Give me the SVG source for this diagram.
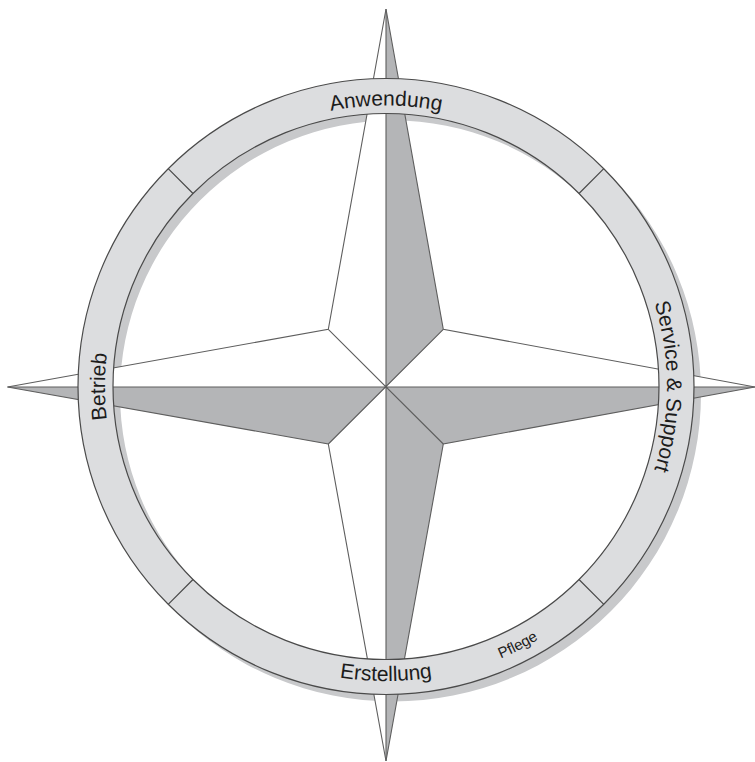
<svg xmlns="http://www.w3.org/2000/svg" width="755" height="762" viewBox="0 0 755 762">
<style>
.ln{stroke:#5e5e5e;stroke-width:1.1;fill:none;stroke-linejoin:miter}
.rl{stroke:#4a4a4a;stroke-width:1.2;fill:none}
.g{fill:#b4b5b7}
.lbl{font-family:"Liberation Sans",Arial,Helvetica,sans-serif;font-size:21px;fill:#1c1c1c}
.sm{font-size:15px}
</style>
<defs>
<path id="pN" d="M105,386.5 A281,281 0 0 1 667,386.5"/>
<path id="pE" d="M386,105.5 A281,281 0 0 1 386,667.5"/>
<path id="pW" d="M386,667.5 A281,281 0 0 1 386,105.5"/>
<path id="pS" d="M91.5,386.5 A294.5,294.5 0 0 0 680.5,386.5"/>
<path id="pP" d="M120.5,521.8 A298,298 0 0 0 651.5,251.2"/>
</defs>
<rect width="755" height="762" fill="#ffffff"/>
<g id="shadow">
<path d="M701,393.5 A308,308 0 1 0 85,393.5 A308,308 0 1 0 701,393.5 Z M666,393.5 A273,273 0 1 0 120,393.5 A273,273 0 1 0 666,393.5 Z" fill="#c8c9cb" fill-rule="evenodd"/>
</g>
<g id="star">
<polygon points="386,9 443.3,329.3 755,387 443.3,444 386,761 328.3,444 7.5,387 328.3,329.3" fill="#ffffff"/>
<polygon class="g" points="386,387 386,9 443.3,329.3"/>
<polygon class="g" points="386,387 755,387 443.3,444"/>
<polygon class="g" points="386,387 386,761 443.3,444"/>
<polygon class="g" points="386,387 7.5,387 328.3,444"/>
<polygon class="ln" points="386,9 443.3,329.3 755,387 443.3,444 386,761 328.3,444 7.5,387 328.3,329.3"/>
<path class="ln" d="M386,9 V761 M7.5,387 H755 M328.3,329.3 L443.3,444 M443.3,329.3 L328.3,444"/>
</g>
<g id="ring">
<path d="M694,386.5 A308,308 0 1 0 78,386.5 A308,308 0 1 0 694,386.5 Z M659,386.5 A273,273 0 1 0 113,386.5 A273,273 0 1 0 659,386.5 Z" fill="#dcdddf" fill-rule="evenodd"/>
<circle class="rl" cx="386" cy="386.5" r="308"/>
<circle class="rl" cx="386" cy="386.5" r="273"/>
</g>
<g id="connectors">
<path class="rl" d="M168.2,168.7 L193,193.5 M603.8,168.7 L579,193.5 M603.8,604.3 L579,579.5 M168.2,604.3 L193,579.5"/>
</g>
<g id="labels">
<g id="anwendung"><text class="lbl" text-anchor="middle"><textPath href="#pN" startOffset="50%">Anwendung</textPath></text></g>
<g id="service"><text class="lbl" text-anchor="middle"><textPath href="#pE" startOffset="50%">Service &amp; Support</textPath></text></g>
<g id="betrieb"><text class="lbl" text-anchor="middle"><textPath href="#pW" startOffset="50%">Betrieb</textPath></text></g>
<g id="erstellung"><text class="lbl" text-anchor="middle"><textPath href="#pS" startOffset="50%">Erstellung</textPath></text></g>
<g id="pflege"><text class="lbl sm" text-anchor="middle"><textPath href="#pP" startOffset="50%">Pflege</textPath></text></g>
</g>
</svg>
